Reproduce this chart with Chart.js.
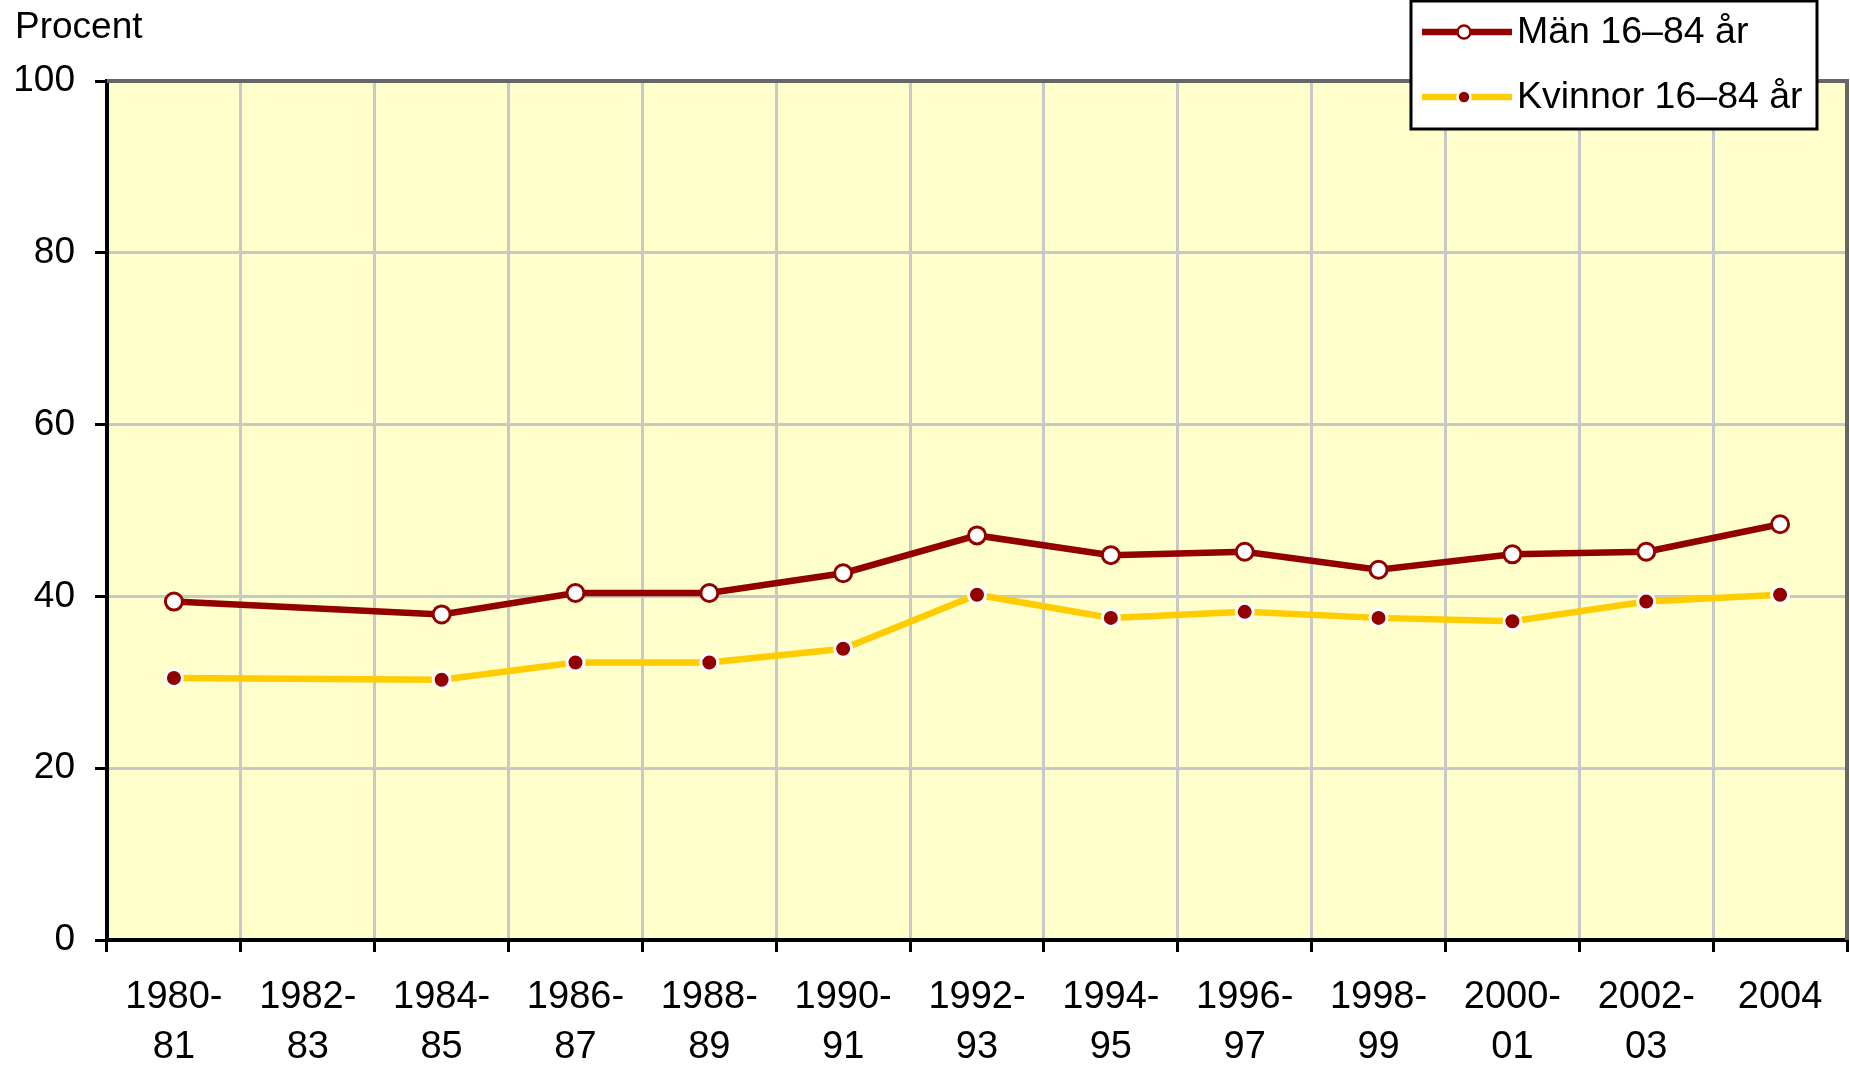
<!DOCTYPE html>
<html lang="sv">
<head>
  <meta charset="UTF-8">
  <title>Procent, Män och Kvinnor 16–84 år</title>
  <style>
    body {
      margin: 0;
      padding: 0;
      background-color: #fff;
    }
    #wrap {
      width: 1850px;
      height: 1066px;
    }
  </style>
  <script src="https://cdn.jsdelivr.net/npm/chart.js"></script>
</head>
<body>
  <div id="wrap">
    <canvas id="chart" width="1850" height="1066"></canvas>
  </div>

  <script>
    // Data
    const periods = [
      ['1980-', '81'], ['1982-', '83'], ['1984-', '85'], ['1986-', '87'],
      ['1988-', '89'], ['1990-', '91'], ['1992-', '93'], ['1994-', '95'],
      ['1996-', '97'], ['1998-', '99'], ['2000-', '01'], ['2002-', '03'], '2004'
    ];
    const seriesNames = ['Män 16–84 år', 'Kvinnor 16–84 år'];
    const menValues = [39.4, null, 37.9, 40.4, 40.4, 42.7, 47.1, 44.8, 45.2, 43.1, 44.9, 45.2, 48.4];
    const womenValues = [30.5, null, 30.3, 32.3, 32.3, 33.9, 40.2, 37.5, 38.2, 37.5, 37.1, 39.4, 40.2];
    const yTicks = [0, 20, 40, 60, 80, 100];
    const yTitle = 'Procent';

    const FONT = "'Liberation Sans', Arial, sans-serif";
    const RED = '#920000';
    const YELLOW = '#FFCC00';

    // plot background + grey top/right frame, title and legend box
    const framePlugin = {
      id: 'frame',
      beforeDraw(chart) {
        const { ctx, chartArea: a } = chart;
        ctx.save();
        ctx.fillStyle = '#FFFFCC';
        ctx.fillRect(a.left, a.top, a.right - a.left, a.bottom - a.top);
        ctx.restore();
      },
      beforeDatasetsDraw(chart) {
        const { ctx, chartArea: a } = chart;
        ctx.save();
        ctx.strokeStyle = '#666666';
        ctx.lineWidth = 4;
        ctx.beginPath();
        ctx.moveTo(a.left, a.top);
        ctx.lineTo(a.right, a.top);
        ctx.lineTo(a.right, a.bottom);
        ctx.stroke();
        ctx.restore();
      },
      afterDraw(chart) {
        const ctx = chart.ctx;
        ctx.save();
        ctx.fillStyle = '#000';
        ctx.font = '37px ' + FONT;
        ctx.textBaseline = 'alphabetic';
        ctx.fillText(yTitle, 15, 38);

        // legend box
        const bx = 1411, by = 1, bw = 406, bh = 128;
        ctx.fillStyle = '#fff';
        ctx.fillRect(bx, by, bw, bh);
        ctx.strokeStyle = '#000';
        ctx.lineWidth = 3;
        ctx.strokeRect(bx, by, bw, bh);

        const rows = [32, 97];
        chart.data.datasets.forEach((ds, i) => {
          const y = rows[i];
          ctx.strokeStyle = ds.borderColor;
          ctx.lineWidth = 6.5;
          ctx.beginPath();
          ctx.moveTo(1422, y);
          ctx.lineTo(1512, y);
          ctx.stroke();
          ctx.beginPath();
          ctx.arc(1464, y, 6.5, 0, Math.PI * 2);
          ctx.fillStyle = ds.pointBackgroundColor;
          ctx.fill();
          ctx.lineWidth = 2.5;
          ctx.strokeStyle = ds.pointBorderColor;
          ctx.stroke();
          ctx.fillStyle = '#000';
          ctx.font = '37.5px ' + FONT;
          ctx.textBaseline = 'middle';
          ctx.fillText(ds.label, 1517, y + 1);
        });
        ctx.restore();
      }
    };

    const ctx = document.getElementById('chart').getContext('2d');
    new Chart(ctx, {
      type: 'line',
      data: {
        labels: periods,
        datasets: [
          {
            label: seriesNames[0],
            data: menValues,
            borderColor: RED,
            borderWidth: 6.5,
            pointRadius: 8.5,
            pointBorderWidth: 3,
            pointBackgroundColor: '#fff',
            pointBorderColor: RED,
            spanGaps: true,
            tension: 0
          },
          {
            label: seriesNames[1],
            data: womenValues,
            borderColor: YELLOW,
            borderWidth: 6.5,
            pointRadius: 8.5,
            pointBorderWidth: 3,
            pointBackgroundColor: RED,
            pointBorderColor: '#fff',
            spanGaps: true,
            tension: 0
          }
        ]
      },
      options: {
        responsive: false,
        animation: false,
        layout: { autoPadding: false, padding: { top: 81, right: 3, left: 0, bottom: 0 } },
        plugins: {
          legend: { display: false },
          tooltip: { enabled: false }
        },
        scales: {
          x: {
            type: 'category',
            offset: true,
            grid: {
              offset: true,
              color: '#C8C8C8',
              lineWidth: 3,
              tickColor: '#000',
              tickLength: 12,
              tickWidth: 3
            },
            border: { color: '#000', width: 4 },
            ticks: {
              color: '#000',
              font: { family: FONT, size: 38, lineHeight: 1.32 },
              maxRotation: 0,
              autoSkip: false,
              padding: 20
            },
            afterFit(scale) { scale.height = 126; }
          },
          y: {
            min: 0,
            max: 100,
            afterBuildTicks(scale) {
              scale.ticks = yTicks.map(v => ({ value: v }));
            },
            grid: {
              color: '#C8C8C8',
              lineWidth: 3,
              tickColor: '#000',
              tickLength: 12,
              tickWidth: 3
            },
            border: { color: '#000', width: 4 },
            ticks: {
              color: '#000',
              font: { family: FONT, size: 37 },
              padding: 20
            },
            afterFit(scale) { scale.width = 107; }
          }
        }
      },
      plugins: [framePlugin]
    });
  </script>
</body>
</html>
